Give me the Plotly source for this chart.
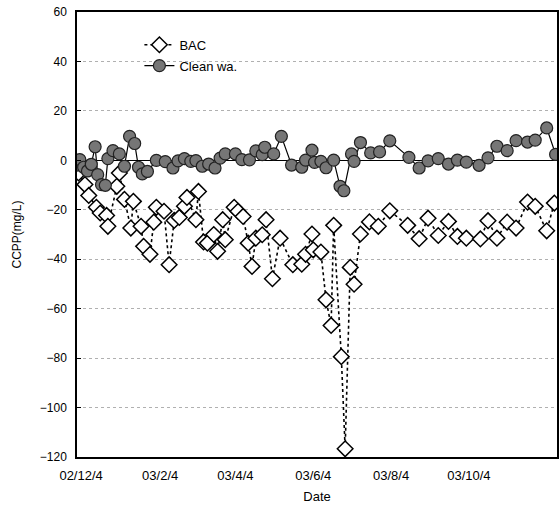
import plotly.graph_objects as go

# ---- data ----
bac_dates = [
    "2002-12-02", "2002-12-07", "2002-12-10", "2002-12-16", "2002-12-19", "2002-12-24", "2002-12-25",
    "2003-01-01", "2003-01-03", "2003-01-07", "2003-01-12", "2003-01-14", "2003-01-20", "2003-01-22",
    "2003-01-27", "2003-01-30", "2003-02-01", "2003-02-07", "2003-02-11", "2003-02-15", "2003-02-19",
    "2003-02-23", "2003-02-25", "2003-03-04", "2003-03-06", "2003-03-10", "2003-03-13", "2003-03-18",
    "2003-03-21", "2003-03-25", "2003-03-27", "2003-04-03", "2003-04-06", "2003-04-10", "2003-04-14",
    "2003-04-17", "2003-04-20", "2003-04-25", "2003-04-28", "2003-05-03", "2003-05-09", "2003-05-19",
    "2003-05-26", "2003-05-29", "2003-06-03", "2003-06-04", "2003-06-10", "2003-06-14", "2003-06-18",
    "2003-06-20", "2003-06-26", "2003-06-29", "2003-07-03", "2003-07-06", "2003-07-11", "2003-07-18",
    "2003-07-25", "2003-08-03", "2003-08-17", "2003-08-26", "2003-09-02", "2003-09-10", "2003-09-18",
    "2003-09-25", "2003-10-02", "2003-10-13", "2003-10-19", "2003-10-26", "2003-11-03", "2003-11-10",
    "2003-11-19", "2003-11-25", "2003-12-04", "2003-12-10",
]
bac_values = [
    -5.1, -9.8, -14.2, -19.0, -21.3, -22.3, -26.7,
    -10.5, -5.1, -15.8, -27.4, -16.6, -26.7, -34.8,
    -38.0, -25.0, -19.0, -20.6, -42.2, -24.3, -23.1,
    -18.6, -15.0, -24.0, -12.6, -33.0, -33.5, -30.0,
    -36.8, -24.0, -32.1, -19.0, -20.6, -22.7, -33.5,
    -42.9, -31.5, -30.1, -24.0, -47.9, -31.5, -42.2,
    -42.0, -38.0, -29.8, -36.2, -37.1, -56.4, -66.8,
    -26.3, -79.4, -116.7, -43.3, -50.1, -29.8, -24.9,
    -26.7, -20.4, -26.3, -31.7, -23.4, -30.4, -24.7,
    -30.8, -31.5, -31.8, -24.4, -31.5, -25.0, -27.4,
    -16.9, -18.6, -28.5, -17.3,
]

clean_dates = [
    "2002-11-30", "2002-12-03", "2002-12-06", "2002-12-09", "2002-12-12", "2002-12-15", "2002-12-17",
    "2002-12-20", "2002-12-23", "2002-12-25", "2002-12-29", "2003-01-03", "2003-01-07", "2003-01-11",
    "2003-01-15", "2003-01-18", "2003-01-21", "2003-01-25", "2003-02-01", "2003-02-08", "2003-02-14",
    "2003-02-18", "2003-02-23", "2003-02-28", "2003-03-04", "2003-03-09", "2003-03-14", "2003-03-19",
    "2003-03-23", "2003-03-27", "2003-04-04", "2003-04-09", "2003-04-15", "2003-04-20", "2003-04-25",
    "2003-04-27", "2003-05-04", "2003-05-10", "2003-05-18", "2003-05-26", "2003-05-29", "2003-06-03",
    "2003-06-05", "2003-06-10", "2003-06-14", "2003-06-20", "2003-06-25", "2003-06-28", "2003-07-04",
    "2003-07-06", "2003-07-11", "2003-07-19", "2003-07-26", "2003-08-03", "2003-08-18", "2003-08-26",
    "2003-09-02", "2003-09-10", "2003-09-18", "2003-09-25", "2003-10-02", "2003-10-12", "2003-10-19",
    "2003-10-26", "2003-11-03", "2003-11-10", "2003-11-19", "2003-11-25", "2003-12-04", "2003-12-11",
]
clean_values = [
    -2.0, 0.3, -2.8, -4.3, -1.6, 5.5, -5.8,
    -9.8, -10.1, 0.7, 3.9, 2.6, -2.4, 9.7,
    6.8, -2.8, -5.5, -4.5, 0.0, -0.5, -3.1,
    -0.2, 0.7, -0.4, -0.1, -2.4, -1.5, -3.1,
    0.9, 2.6, 2.6, 0.3, 0.2, 3.8, 2.3,
    5.3, 2.6, 9.7, -1.9, -2.8, 0.1, 4.1,
    -0.8, -0.4, -3.0, 0.1, -10.5, -12.3, 2.6,
    -0.4, 7.2, 3.0, 3.4, 7.9, 1.2, -3.1,
    -0.2, 0.7, -1.5, 0.1, -0.7, -2.0, 1.0,
    5.7, 3.9, 8.0, 7.4, 8.2, 13.1, 2.4,
]

tick_dates = ["2002-12-04", "2003-02-04", "2003-04-04", "2003-06-04", "2003-08-04", "2003-10-04"]
tick_labels = ["02/12/4", "03/2/4", "03/4/4", "03/6/4", "03/8/4", "03/10/4"]

FONT = "Liberation Sans, Arial, sans-serif"

fig = go.Figure()
fig.add_trace(go.Scatter(
    x=bac_dates, y=bac_values, name="BAC", mode="lines+markers",
    line=dict(color="black", width=1.6, dash="dot"),
    marker=dict(symbol="diamond", size=12, color="white", line=dict(color="black", width=1.5)),
    legendgroup="a",
))
fig.add_trace(go.Scatter(
    x=clean_dates, y=clean_values, name="Clean wa.", mode="lines+markers",
    line=dict(color="black", width=1.2),
    marker=dict(symbol="circle", size=12, color="#767676", line=dict(color="#222", width=1.2)),
    legendgroup="b",
))

fig.update_layout(
    width=560, height=509,
    margin=dict(l=77, r=1, t=12, b=52),
    paper_bgcolor="white", plot_bgcolor="white",
    font=dict(family=FONT, size=12, color="black"),
    showlegend=True,
    legend=dict(x=0.13, y=0.96, xanchor="left", yanchor="top", bgcolor="rgba(0,0,0,0)",
                font=dict(size=13), tracegroupgap=1),
    xaxis=dict(
        type="date", range=["2002-11-30 19:00", "2003-12-12 02:00"],
        tickmode="array", tickvals=tick_dates, ticktext=tick_labels,
        showgrid=False, showline=True, mirror=True, linecolor="black", linewidth=1.5,
        ticks="", tickfont=dict(size=13), ticklabelstandoff=6,
        title=dict(text="Date", font=dict(size=13), standoff=10),
    ),
    yaxis=dict(
        range=[-120, 60], dtick=20, tick0=0,
        showgrid=True, gridcolor="#b0b0b0", griddash="dot", gridwidth=1,
        zeroline=True, zerolinecolor="black", zerolinewidth=1.2,
        showline=True, mirror=True, linecolor="black", linewidth=1.5,
        ticks="inside", ticklen=4, tickcolor="black",
        tickfont=dict(size=12), ticklabelstandoff=6,
        title=dict(text="CCPP(mg/L)", font=dict(size=12), standoff=16),
    ),
)

fig.write_html("out.html")
